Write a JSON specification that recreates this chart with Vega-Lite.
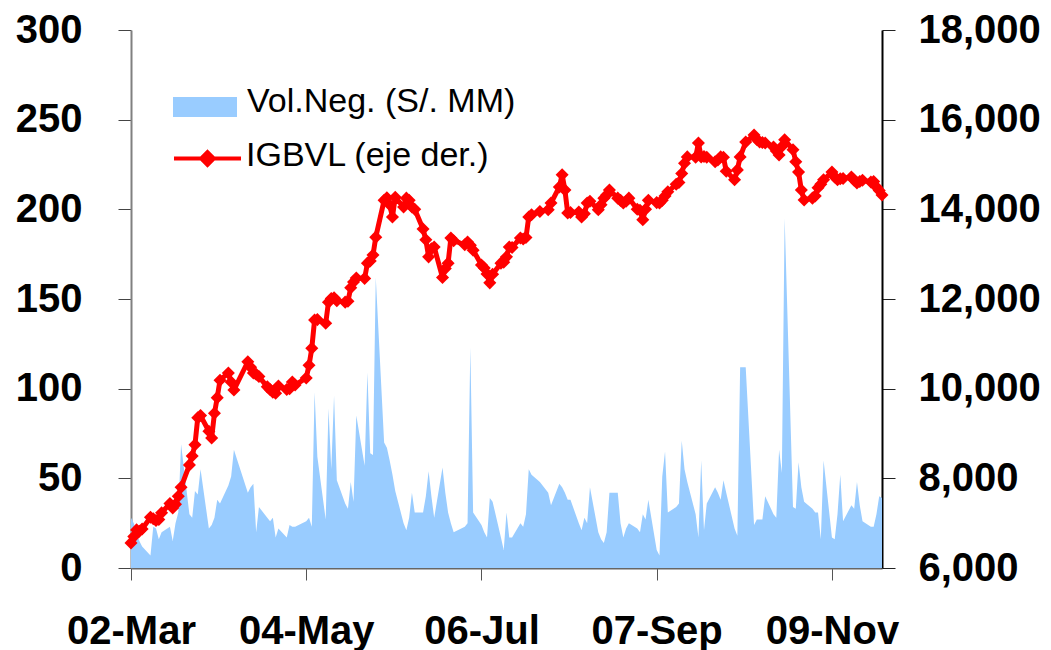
{
"$schema": "https://vega.github.io/schema/vega-lite/v6.json",
"width": 751, "height": 538,
"autosize": {"type": "none"},
"padding": {"left": 131, "top": 30, "right": 169, "bottom": 82},
"background": "white",
"config": {"view": {"stroke": null}, "font": "Liberation Sans"},
"data": {"values": [
{"fecha":"2009-03-02","vol":28,"igbvl":6560},{"fecha":"2009-03-03","vol":25,"igbvl":6700},{"fecha":"2009-03-04","vol":20,"igbvl":6850},{"fecha":"2009-03-05","vol":15,"igbvl":6820},{"fecha":"2009-03-06","vol":12,"igbvl":6870},
{"fecha":"2009-03-09","vol":7,"igbvl":7130},{"fecha":"2009-03-10","vol":23,"igbvl":7100},{"fecha":"2009-03-11","vol":22,"igbvl":7060},{"fecha":"2009-03-12","vol":16,"igbvl":7080},{"fecha":"2009-03-13","vol":20,"igbvl":7230},
{"fecha":"2009-03-16","vol":23,"igbvl":7440},{"fecha":"2009-03-17","vol":15,"igbvl":7340},{"fecha":"2009-03-18","vol":25,"igbvl":7420},{"fecha":"2009-03-19","vol":31,"igbvl":7600},{"fecha":"2009-03-20","vol":69,"igbvl":7800},
{"fecha":"2009-03-23","vol":30,"igbvl":8300},{"fecha":"2009-03-24","vol":28,"igbvl":8500},{"fecha":"2009-03-25","vol":43,"igbvl":8750},{"fecha":"2009-03-26","vol":41,"igbvl":9350},{"fecha":"2009-03-27","vol":55,"igbvl":9400},
{"fecha":"2009-03-30","vol":22,"igbvl":9050},{"fecha":"2009-03-31","vol":24,"igbvl":8900},{"fecha":"2009-04-01","vol":28,"igbvl":9450},{"fecha":"2009-04-02","vol":38,"igbvl":9800},{"fecha":"2009-04-03","vol":36,"igbvl":10190},
{"fecha":"2009-04-06","vol":46,"igbvl":10350},{"fecha":"2009-04-07","vol":51,"igbvl":10150},{"fecha":"2009-04-08","vol":66,"igbvl":9970},
{"fecha":"2009-04-13","vol":42,"igbvl":10600},{"fecha":"2009-04-14","vol":45,"igbvl":10480},{"fecha":"2009-04-15","vol":47,"igbvl":10350},{"fecha":"2009-04-16","vol":20,"igbvl":10320},{"fecha":"2009-04-17","vol":34,"igbvl":10270},
{"fecha":"2009-04-20","vol":28,"igbvl":10040},{"fecha":"2009-04-21","vol":26,"igbvl":9980},{"fecha":"2009-04-22","vol":28,"igbvl":9920},{"fecha":"2009-04-23","vol":17,"igbvl":9900},{"fecha":"2009-04-24","vol":22,"igbvl":10060},
{"fecha":"2009-04-27","vol":17,"igbvl":9980},{"fecha":"2009-04-28","vol":24,"igbvl":10000},{"fecha":"2009-04-29","vol":23,"igbvl":10150},{"fecha":"2009-04-30","vol":23,"igbvl":10080},
{"fecha":"2009-05-04","vol":26,"igbvl":10240},{"fecha":"2009-05-05","vol":28,"igbvl":10520},{"fecha":"2009-05-06","vol":23,"igbvl":10900},{"fecha":"2009-05-07","vol":98,"igbvl":11530},{"fecha":"2009-05-08","vol":62,"igbvl":11540},
{"fecha":"2009-05-11","vol":27,"igbvl":11460},{"fecha":"2009-05-12","vol":89,"igbvl":11930},{"fecha":"2009-05-13","vol":55,"igbvl":12010},{"fecha":"2009-05-14","vol":96,"igbvl":12030},{"fecha":"2009-05-15","vol":49,"igbvl":11960},
{"fecha":"2009-05-18","vol":36,"igbvl":11930},{"fecha":"2009-05-19","vol":33,"igbvl":11950},{"fecha":"2009-05-20","vol":48,"igbvl":12250},{"fecha":"2009-05-21","vol":37,"igbvl":12380},{"fecha":"2009-05-22","vol":85,"igbvl":12470},
{"fecha":"2009-05-25","vol":57,"igbvl":12460},{"fecha":"2009-05-26","vol":109,"igbvl":12800},{"fecha":"2009-05-27","vol":64,"igbvl":12850},{"fecha":"2009-05-28","vol":63,"igbvl":12980},{"fecha":"2009-05-29","vol":162,"igbvl":13380},
{"fecha":"2009-06-01","vol":70,"igbvl":14200},{"fecha":"2009-06-02","vol":67,"igbvl":14260},{"fecha":"2009-06-03","vol":60,"igbvl":14100},{"fecha":"2009-06-04","vol":52,"igbvl":13830},{"fecha":"2009-06-05","vol":43,"igbvl":14270},
{"fecha":"2009-06-08","vol":25,"igbvl":14050},{"fecha":"2009-06-09","vol":21,"igbvl":14250},{"fecha":"2009-06-10","vol":28,"igbvl":14200},{"fecha":"2009-06-11","vol":42,"igbvl":14050},{"fecha":"2009-06-12","vol":31,"igbvl":14000},
{"fecha":"2009-06-15","vol":31,"igbvl":13560},{"fecha":"2009-06-16","vol":40,"igbvl":13320},{"fecha":"2009-06-17","vol":54,"igbvl":12940},{"fecha":"2009-06-18","vol":40,"igbvl":13120},{"fecha":"2009-06-19","vol":28,"igbvl":13160},
{"fecha":"2009-06-22","vol":56,"igbvl":12480},{"fecha":"2009-06-23","vol":42,"igbvl":12680},{"fecha":"2009-06-24","vol":31,"igbvl":12800},{"fecha":"2009-06-25","vol":25,"igbvl":13360},{"fecha":"2009-06-26","vol":20,"igbvl":13300},
{"fecha":"2009-06-30","vol":23,"igbvl":13210},{"fecha":"2009-07-01","vol":25,"igbvl":13270},{"fecha":"2009-07-02","vol":123,"igbvl":13200},{"fecha":"2009-07-03","vol":31,"igbvl":13090},
{"fecha":"2009-07-06","vol":24,"igbvl":12760},{"fecha":"2009-07-07","vol":20,"igbvl":12690},{"fecha":"2009-07-08","vol":17,"igbvl":12560},{"fecha":"2009-07-09","vol":39,"igbvl":12360},{"fecha":"2009-07-10","vol":37,"igbvl":12550},
{"fecha":"2009-07-13","vol":17,"igbvl":12800},{"fecha":"2009-07-14","vol":10,"igbvl":12820},{"fecha":"2009-07-15","vol":31,"igbvl":12940},{"fecha":"2009-07-16","vol":17,"igbvl":13160},{"fecha":"2009-07-17","vol":17,"igbvl":13150},
{"fecha":"2009-07-20","vol":25,"igbvl":13360},{"fecha":"2009-07-21","vol":23,"igbvl":13340},{"fecha":"2009-07-22","vol":30,"igbvl":13370},{"fecha":"2009-07-23","vol":55,"igbvl":13830},{"fecha":"2009-07-24","vol":52,"igbvl":13880},
{"fecha":"2009-07-27","vol":48,"igbvl":13950},{"fecha":"2009-07-30","vol":42,"igbvl":13990},{"fecha":"2009-07-31","vol":35,"igbvl":14140},
{"fecha":"2009-08-03","vol":47,"igbvl":14500},{"fecha":"2009-08-04","vol":45,"igbvl":14770},{"fecha":"2009-08-05","vol":42,"igbvl":14430},{"fecha":"2009-08-06","vol":38,"igbvl":13920},{"fecha":"2009-08-07","vol":38,"igbvl":13930},
{"fecha":"2009-08-10","vol":25,"igbvl":13940},{"fecha":"2009-08-11","vol":21,"igbvl":13830},{"fecha":"2009-08-12","vol":28,"igbvl":13900},{"fecha":"2009-08-13","vol":25,"igbvl":14140},{"fecha":"2009-08-14","vol":45,"igbvl":14180},
{"fecha":"2009-08-17","vol":20,"igbvl":13990},{"fecha":"2009-08-18","vol":16,"igbvl":14100},{"fecha":"2009-08-19","vol":14,"igbvl":14250},{"fecha":"2009-08-20","vol":20,"igbvl":14320},{"fecha":"2009-08-21","vol":42,"igbvl":14430},
{"fecha":"2009-08-24","vol":42,"igbvl":14250},{"fecha":"2009-08-25","vol":25,"igbvl":14200},{"fecha":"2009-08-26","vol":17,"igbvl":14140},{"fecha":"2009-08-27","vol":22,"igbvl":14180},{"fecha":"2009-08-28","vol":25,"igbvl":14250},
{"fecha":"2009-08-31","vol":22,"igbvl":14000},{"fecha":"2009-09-01","vol":20,"igbvl":13980},{"fecha":"2009-09-02","vol":30,"igbvl":13770},{"fecha":"2009-09-03","vol":27,"igbvl":14000},{"fecha":"2009-09-04","vol":38,"igbvl":14200},
{"fecha":"2009-09-07","vol":10,"igbvl":14150},{"fecha":"2009-09-08","vol":7,"igbvl":14140},{"fecha":"2009-09-09","vol":51,"igbvl":14200},{"fecha":"2009-09-10","vol":65,"igbvl":14300},{"fecha":"2009-09-11","vol":31,"igbvl":14390},
{"fecha":"2009-09-14","vol":34,"igbvl":14560},{"fecha":"2009-09-15","vol":36,"igbvl":14600},{"fecha":"2009-09-16","vol":71,"igbvl":14800},{"fecha":"2009-09-17","vol":55,"igbvl":15030},{"fecha":"2009-09-18","vol":48,"igbvl":15170},
{"fecha":"2009-09-21","vol":30,"igbvl":15160},{"fecha":"2009-09-22","vol":17,"igbvl":15480},{"fecha":"2009-09-23","vol":60,"igbvl":15170},{"fecha":"2009-09-24","vol":21,"igbvl":15180},{"fecha":"2009-09-25","vol":36,"igbvl":15160},
{"fecha":"2009-09-28","vol":45,"igbvl":15060},{"fecha":"2009-09-29","vol":42,"igbvl":15100},{"fecha":"2009-09-30","vol":38,"igbvl":15170},{"fecha":"2009-10-01","vol":49,"igbvl":15160},{"fecha":"2009-10-02","vol":42,"igbvl":14850},
{"fecha":"2009-10-05","vol":22,"igbvl":14660},{"fecha":"2009-10-06","vol":18,"igbvl":14880},{"fecha":"2009-10-07","vol":112,"igbvl":15170},{"fecha":"2009-10-09","vol":112,"igbvl":15500},
{"fecha":"2009-10-12","vol":24,"igbvl":15660},{"fecha":"2009-10-13","vol":27,"igbvl":15560},{"fecha":"2009-10-14","vol":27,"igbvl":15500},{"fecha":"2009-10-15","vol":27,"igbvl":15490},{"fecha":"2009-10-16","vol":40,"igbvl":15480},
{"fecha":"2009-10-19","vol":30,"igbvl":15390},{"fecha":"2009-10-20","vol":28,"igbvl":15300},{"fecha":"2009-10-21","vol":66,"igbvl":15210},{"fecha":"2009-10-22","vol":53,"igbvl":15400},{"fecha":"2009-10-23","vol":195,"igbvl":15550},
{"fecha":"2009-10-26","vol":34,"igbvl":15330},{"fecha":"2009-10-27","vol":33,"igbvl":15060},{"fecha":"2009-10-28","vol":59,"igbvl":14830},{"fecha":"2009-10-29","vol":45,"igbvl":14430},{"fecha":"2009-10-30","vol":37,"igbvl":14210},
{"fecha":"2009-11-02","vol":33,"igbvl":14250},{"fecha":"2009-11-03","vol":31,"igbvl":14300},{"fecha":"2009-11-04","vol":31,"igbvl":14480},{"fecha":"2009-11-05","vol":16,"igbvl":14560},{"fecha":"2009-11-06","vol":60,"igbvl":14660},
{"fecha":"2009-11-09","vol":17,"igbvl":14830},{"fecha":"2009-11-10","vol":16,"igbvl":14720},{"fecha":"2009-11-11","vol":30,"igbvl":14660},{"fecha":"2009-11-12","vol":52,"igbvl":14680},{"fecha":"2009-11-13","vol":26,"igbvl":14690},
{"fecha":"2009-11-16","vol":35,"igbvl":14720},{"fecha":"2009-11-17","vol":33,"igbvl":14650},{"fecha":"2009-11-18","vol":48,"igbvl":14590},{"fecha":"2009-11-19","vol":35,"igbvl":14620},{"fecha":"2009-11-20","vol":26,"igbvl":14650},
{"fecha":"2009-11-23","vol":23,"igbvl":14610},{"fecha":"2009-11-24","vol":23,"igbvl":14620},{"fecha":"2009-11-25","vol":30,"igbvl":14500},{"fecha":"2009-11-26","vol":40,"igbvl":14420},{"fecha":"2009-11-27","vol":39,"igbvl":14320}
]},
"layer": [
{
"mark": {"type": "area", "opacity": 1, "fillOpacity": 1},
"encoding": {
"x": {"field": "fecha", "type": "temporal",
"scale": {"type": "utc", "nice": false, "domain": [{"year": 2009, "month": 3, "date": 2, "utc": true}, {"year": 2009, "month": 11, "date": 27, "utc": true}]},
"axis": {"title": null, "values": [{"year": 2009, "month": 3, "date": 2, "utc": true}, {"year": 2009, "month": 5, "date": 4, "utc": true}, {"year": 2009, "month": 7, "date": 6, "utc": true}, {"year": 2009, "month": 9, "date": 7, "utc": true}, {"year": 2009, "month": 11, "date": 9, "utc": true}],
"labelExpr": "utcFormat(datum.value, '%d-%b')", "grid": false, "tickSize": 12, "tickColor": "#555555", "domainColor": "#666666", "domainWidth": 2,
"labelFont": "Liberation Sans", "labelFontWeight": "bold", "labelFontSize": 40, "labelColor": "black", "labelPadding": 31, "labelFlush": false, "labelOverlap": false}},
"y": {"field": "vol", "type": "quantitative", "scale": {"domain": [0, 300], "nice": false, "zero": true},
"axis": {"orient": "left", "title": null, "values": [0, 50, 100, 150, 200, 250, 300], "grid": false, "tickSize": 13, "tickColor": "#444444", "domainColor": "#808080", "domainWidth": 2,
"labelFont": "Liberation Sans", "labelFontWeight": "bold", "labelFontSize": 40, "labelColor": "black", "labelPadding": 36}},
"fill": {"datum": "Vol.Neg. (S/. MM)", "type": "nominal", "scale": {"range": ["#99CCFF"]},
"legend": {"orient": "none", "legendX": 42, "legendY": 45, "title": null, "symbolType": "M-1,-0.3125H1V0.3125H-1Z", "symbolSize": 4096, "symbolStrokeWidth": 0, "symbolFillColor": "#99CCFF", "symbolOpacity": 1,
"labelFont": "Liberation Sans", "labelFontSize": 34, "labelColor": "black", "labelOffset": 10, "labelLimit": 500,
"encode": {"labels": {"update": {"dy": {"value": -5}}}}}}
}
},
{
"mark": {"type": "line", "strokeWidth": 5, "strokeJoin": "round"},
"encoding": {
"x": {"field": "fecha", "type": "temporal"},
"y": {"field": "igbvl", "type": "quantitative", "scale": {"domain": [6000, 18000], "nice": false, "zero": false},
"axis": {"orient": "right", "title": null, "values": [6000, 8000, 10000, 12000, 14000, 16000, 18000], "labelExpr": "format(datum.value, ',')", "grid": false, "tickSize": 13, "tickColor": "#222222", "domainColor": "black", "domainWidth": 2,
"labelFont": "Liberation Sans", "labelFontWeight": "bold", "labelFontSize": 40, "labelColor": "black", "labelPadding": 23}},
"stroke": {"datum": "IGBVL (eje der.)", "type": "nominal", "scale": {"range": ["#FF0000"]},
"legend": {"orient": "none", "legendX": 41, "legendY": 93, "title": null, "symbolType": "M-1,0H1M0,-0.19L0.19,0L0,0.19L-0.19,0Z", "symbolSize": 4489, "symbolStrokeWidth": 4, "symbolStrokeColor": "#FF0000", "symbolFillColor": "#FF0000", "symbolOpacity": 1,
"labelFont": "Liberation Sans", "labelFontSize": 34, "labelColor": "black", "labelOffset": 3, "labelLimit": 500,
"encode": {"symbols": {"update": {"fill": {"value": "#FF0000"}, "stroke": {"value": "#FF0000"}}}, "labels": {"update": {"dy": {"value": -3}}}}}}
}
},
{
"mark": {"type": "point", "shape": "diamond", "filled": true, "color": "#FF0000", "size": 170, "opacity": 1},
"encoding": {
"x": {"field": "fecha", "type": "temporal"},
"y": {"field": "igbvl", "type": "quantitative", "scale": {"domain": [6000, 18000], "nice": false, "zero": false}, "axis": null}
}
}
],
"resolve": {"scale": {"y": "independent", "fill": "independent", "stroke": "independent"}}
}
